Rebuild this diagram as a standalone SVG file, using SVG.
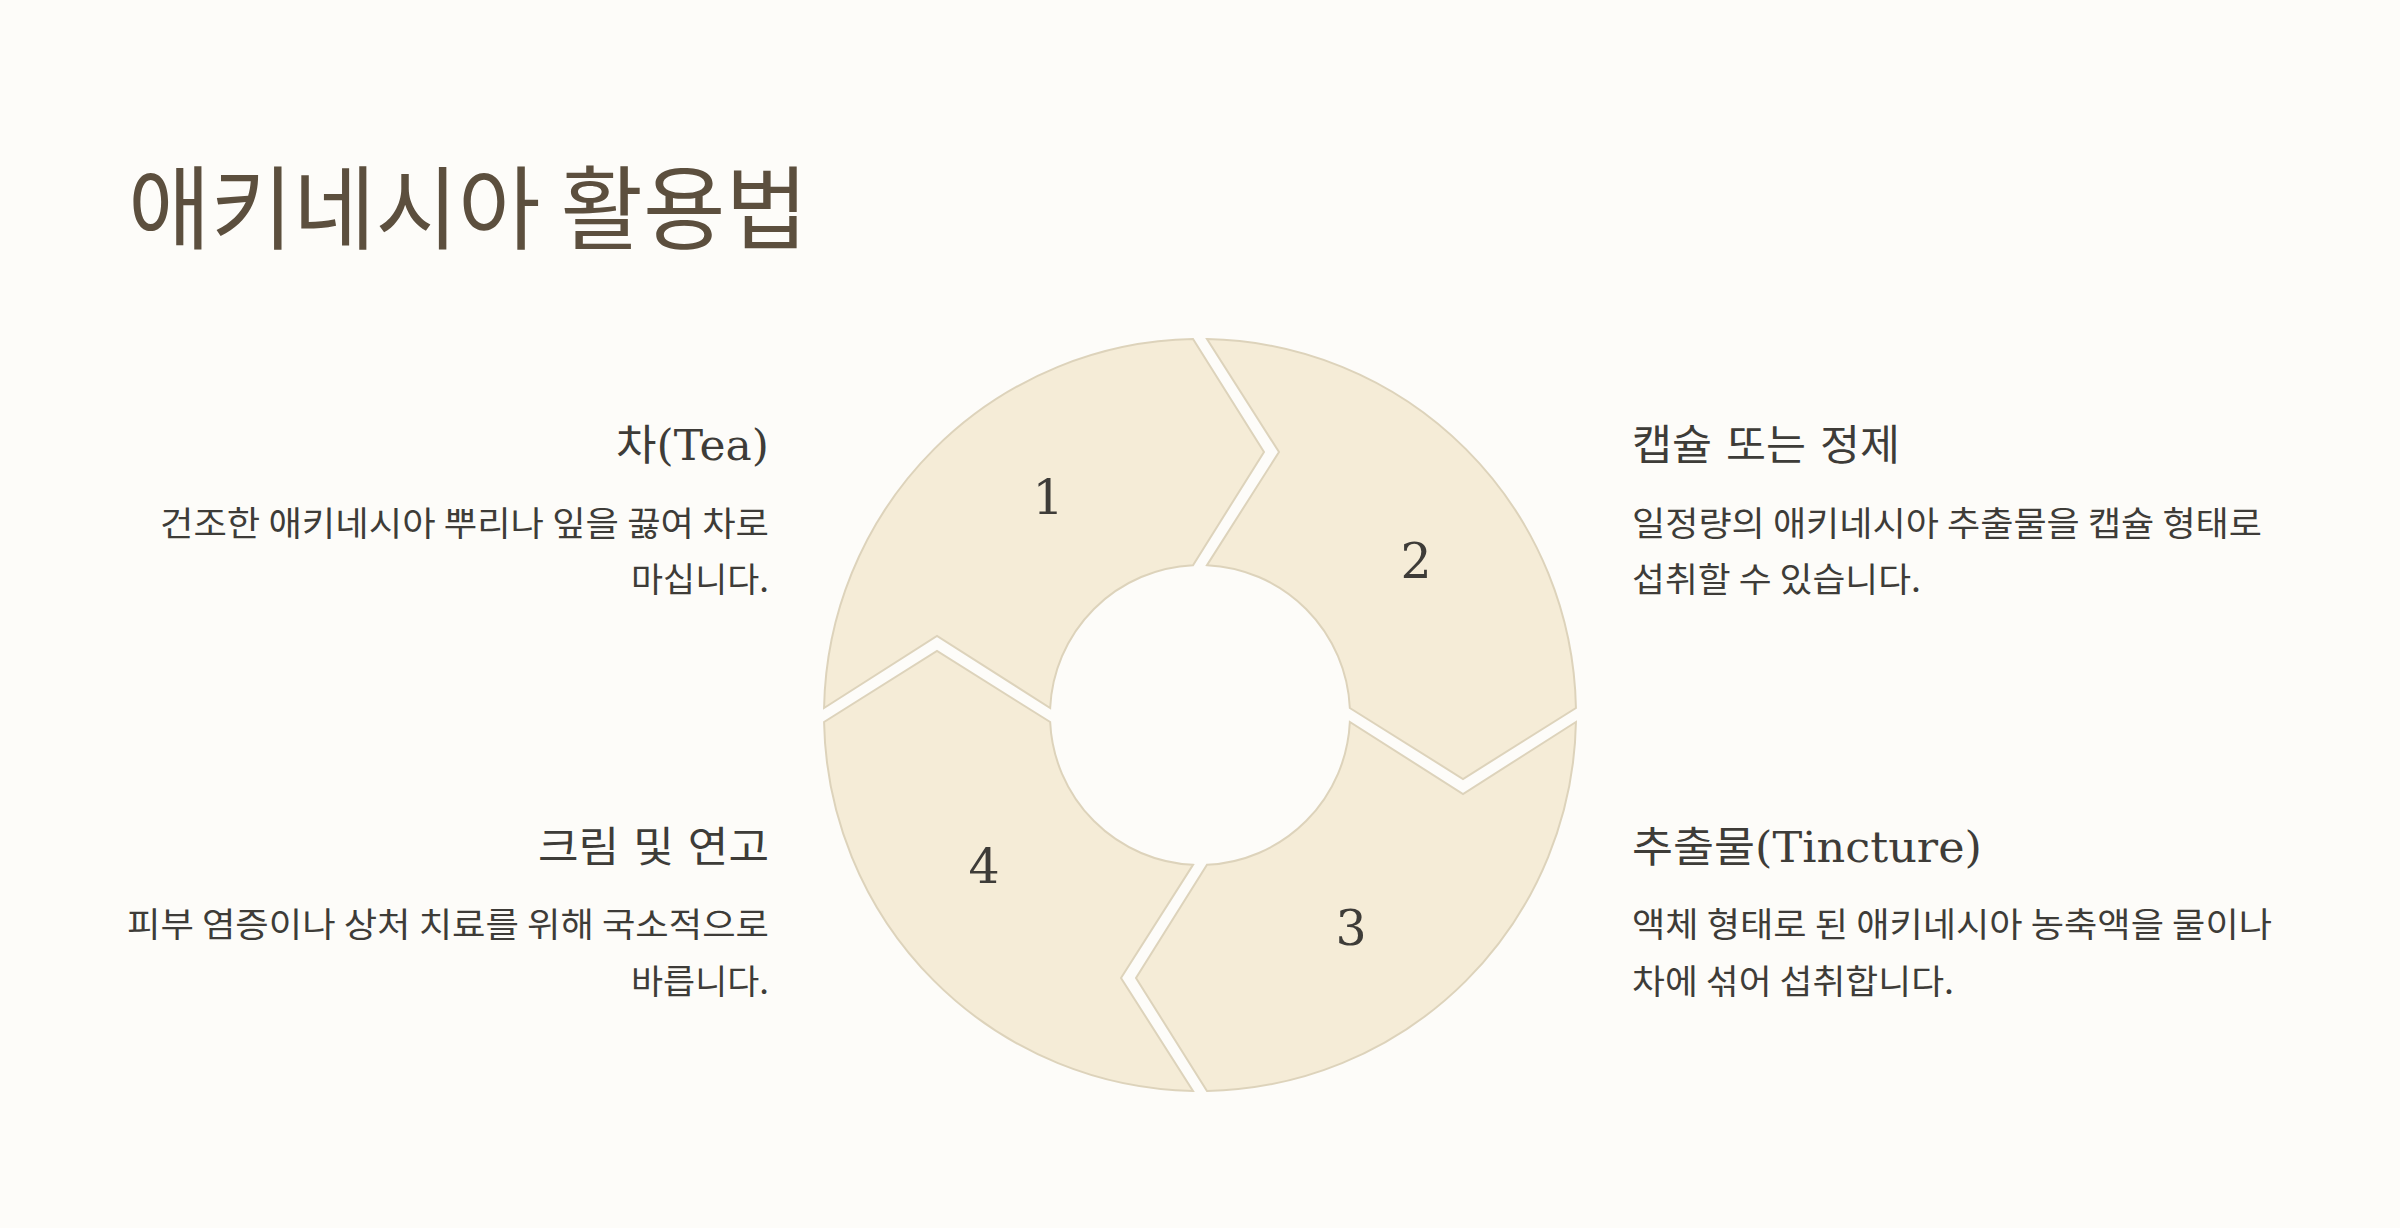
<svg xmlns="http://www.w3.org/2000/svg" width="2400" height="1228" viewBox="0 0 2400 1228">
<style>
.seg{fill:#F5ECD7;stroke:#DDD3BB;stroke-width:2;stroke-linejoin:miter}
.num{font-family:"DejaVu Serif","Liberation Serif",serif;font-size:49px;fill:#3E3C38;text-anchor:middle}
.head{font-family:"DejaVu Serif","Noto Sans CJK KR",serif;font-size:42px;fill:#3E3C38}
.body{font-family:"Noto Sans CJK KR","Noto Sans",sans-serif;font-size:34px;fill:#3E3C38}
.title{font-family:"Noto Sans CJK KR","Noto Sans",sans-serif;font-size:91px;fill:#5C4F3E}
.end{text-anchor:end}
</style>
<rect x="0" y="0" width="2400" height="1228" fill="#FDFCF9"/>
<text class="title" x="128" y="242" textLength="680" lengthAdjust="spacingAndGlyphs">애키네시아 활용법</text>
<g id="connectors"></g>
<g id="seg1">
<path class="seg" d="M824.07,708 A376,376 0 0 1 1193,339.07 L1264,452 L1193,565.16 A150,150 0 0 0 1050.16,708 L937,636 Z"/>
<text class="num" x="1048" y="514">1</text>
</g>
<g id="seg2">
<path class="seg" d="M1207,339.07 A376,376 0 0 1 1575.93,708 L1463,779 L1349.84,708 A150,150 0 0 0 1207,565.16 L1279,452 Z"/>
<text class="num" x="1416" y="578">2</text>
</g>
<g id="seg3">
<path class="seg" d="M1575.93,722 A376,376 0 0 1 1207,1090.93 L1136,978 L1207,864.84 A150,150 0 0 0 1349.84,722 L1463,794 Z"/>
<text class="num" x="1351" y="945">3</text>
</g>
<g id="seg4">
<path class="seg" d="M1193,1090.93 A376,376 0 0 1 824.07,722 L937,651 L1050.16,722 A150,150 0 0 0 1193,864.84 L1121,978 Z"/>
<text class="num" x="984" y="883">4</text>
</g>
<g id="item-tea">
<text class="head end" x="769" y="460" textLength="153" lengthAdjust="spacingAndGlyphs">차(Tea)</text>
<text class="body end" x="769" y="536" textLength="609" lengthAdjust="spacingAndGlyphs">건조한 애키네시아 뿌리나 잎을 끓여 차로</text>
<text class="body end" x="769" y="592" textLength="138" lengthAdjust="spacingAndGlyphs">마십니다.</text>
</g>
<g id="item-capsule">
<text class="head" x="1632" y="460" textLength="268" lengthAdjust="spacingAndGlyphs">캡슐 또는 정제</text>
<text class="body" x="1632" y="536" textLength="630" lengthAdjust="spacingAndGlyphs">일정량의 애키네시아 추출물을 캡슐 형태로</text>
<text class="body" x="1632" y="592" textLength="289" lengthAdjust="spacingAndGlyphs">섭취할 수 있습니다.</text>
</g>
<g id="item-cream">
<text class="head end" x="769" y="862" textLength="231" lengthAdjust="spacingAndGlyphs">크림 및 연고</text>
<text class="body end" x="769" y="937" textLength="642" lengthAdjust="spacingAndGlyphs">피부 염증이나 상처 치료를 위해 국소적으로</text>
<text class="body end" x="769" y="994" textLength="138" lengthAdjust="spacingAndGlyphs">바릅니다.</text>
</g>
<g id="item-tincture">
<text class="head" x="1632" y="862" textLength="350" lengthAdjust="spacingAndGlyphs">추출물(Tincture)</text>
<text class="body" x="1632" y="937" textLength="640" lengthAdjust="spacingAndGlyphs">액체 형태로 된 애키네시아 농축액을 물이나</text>
<text class="body" x="1632" y="994" textLength="322" lengthAdjust="spacingAndGlyphs">차에 섞어 섭취합니다.</text>
</g>
</svg>
